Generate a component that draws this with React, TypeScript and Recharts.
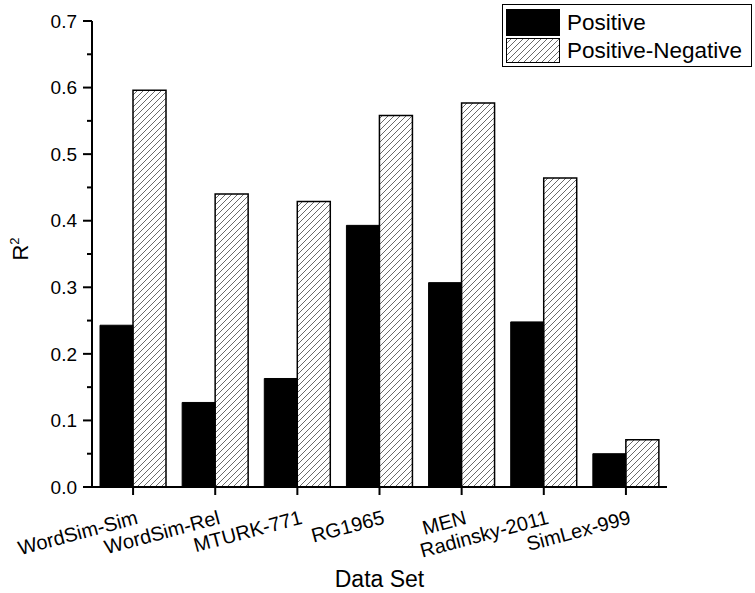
import { BarChart, Bar, XAxis, YAxis, Label } from "recharts";

const categories = [
  "WordSim-Sim",
  "WordSim-Rel",
  "MTURK-771",
  "RG1965",
  "MEN",
  "Radinsky-2011",
  "SimLex-999",
];
const positive = [0.243, 0.127, 0.163, 0.393, 0.307, 0.248, 0.05];
const positiveNegative = [0.596, 0.44, 0.429, 0.558, 0.577, 0.464, 0.071];
const yTicks = [0, 0.05, 0.1, 0.15, 0.2, 0.25, 0.3, 0.35, 0.4, 0.45, 0.5, 0.55, 0.6, 0.65, 0.7];
const majorTicks = [0, 0.1, 0.2, 0.3, 0.4, 0.5, 0.6, 0.7];

const data = categories.map((name, i) => ({
  name,
  pos: positive[i],
  posNeg: positiveNegative[i],
}));

const FONT = "'Liberation Sans', Arial, sans-serif";

function YTick(props: any) {
  const { x, y, payload } = props;
  const v = payload.value;
  const major = majorTicks.some((m) => Math.abs(m - v) < 1e-6);
  return (
    <g>
      <line x1={x - (major ? 9 : 5)} x2={x} y1={y} y2={y} stroke="#000" strokeWidth={2} />
      {major && (
        <text x={x - 15} y={y} dy="0.35em" textAnchor="end" fontSize={19} fontFamily={FONT} fill="#000">
          {v.toFixed(1)}
        </text>
      )}
    </g>
  );
}

function XTick(props: any) {
  const { x, y, payload } = props;
  return (
    <g>
      <line x1={x} x2={x} y1={y} y2={y + 8} stroke="#000" strokeWidth={2} />
      <text
        x={x + 2}
        y={y + 22}
        dy="0.75em"
        textAnchor="end"
        fontSize={20}
        fontFamily={FONT}
        fill="#000"
        transform={`rotate(-15, ${x + 2}, ${y + 22})`}
      >
        {payload.value}
      </text>
    </g>
  );
}

function LegendBox() {
  return (
    <div
      style={{
        position: "absolute",
        left: 502,
        top: 4,
        border: "1px solid #000",
        width: 250,
        padding: "3px 0 2px 3px",
        fontFamily: FONT,
        fontSize: 22.5,
        background: "#fff",
        boxSizing: "border-box",
      }}
    >
      <div style={{ display: "flex", alignItems: "center", height: 29 }}>
        <svg width={54} height={27} style={{ marginRight: 7 }}>
          <rect x={0.5} y={0.5} width={53} height={26} fill="#000" stroke="#000" />
        </svg>
        Positive
      </div>
      <div style={{ display: "flex", alignItems: "center", height: 27 }}>
        <svg width={54} height={25} style={{ marginRight: 7 }}>
          <defs>
            <pattern id="hatchLegend" patternUnits="userSpaceOnUse" width={6} height={6}>
              <path d="M-1,1 l2,-2 M0,6 l6,-6 M5,7 l2,-2" stroke="#444" strokeWidth={0.8} />
            </pattern>
          </defs>
          <rect x={0.5} y={0.5} width={53} height={24} fill="url(#hatchLegend)" stroke="#000" />
        </svg>
        Positive-Negative
      </div>
    </div>
  );
}

export default function App() {
  return (
    <div style={{ position: "absolute", left: 0, top: 0, width: 755, height: 593, background: "#fff" }}>
      <BarChart
        width={755}
        height={593}
        data={data}
        margin={{ top: 21, right: 88, bottom: 6, left: 32 }}
        barCategoryGap={8}
        barGap={0}
      >
        <defs>
          <pattern id="hatch" patternUnits="userSpaceOnUse" width={6} height={6}>
            <path d="M-1,1 l2,-2 M0,6 l6,-6 M5,7 l2,-2" stroke="#444" strokeWidth={0.8} />
          </pattern>
        </defs>
        <XAxis
          dataKey="name"
          height={100}
          interval={0}
          tickLine={false}
          tickSize={0}
          tickMargin={0}
          tick={<XTick />}
          axisLine={{ stroke: "#000", strokeWidth: 2 }}
        >
          <Label
            value="Data Set"
            position="insideBottom"
            offset={0}
            style={{ fontSize: 23, fontFamily: FONT, fill: "#000" }}
          />
        </XAxis>
        <YAxis
          width={60}
          domain={[0, 0.7]}
          ticks={yTicks}
          interval={0}
          tickLine={false}
          tickSize={0}
          tickMargin={0}
          tick={<YTick />}
          axisLine={{ stroke: "#000", strokeWidth: 2 }}
          label={{
            content: () => (
              <text
                x={0}
                y={0}
                transform="translate(28, 249) rotate(-90)"
                textAnchor="middle"
                fontSize={22}
                fontFamily={FONT}
                fill="#000"
              >
                R
                <tspan fontSize={13} dy={-9}>
                  2
                </tspan>
              </text>
            ),
          }}
        />
        <Bar dataKey="pos" name="Positive" fill="#000" stroke="#000" strokeWidth={1} isAnimationActive={false} />
        <Bar
          dataKey="posNeg"
          name="Positive-Negative"
          fill="url(#hatch)"
          stroke="#000"
          strokeWidth={1.5}
          isAnimationActive={false}
        />
      </BarChart>
      <LegendBox />
    </div>
  );
}
